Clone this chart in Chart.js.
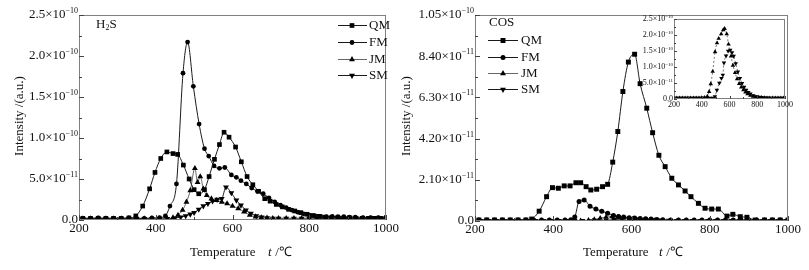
<!DOCTYPE html>
<html lang="en">
<head>
<meta charset="UTF-8">
<title>H2S and COS release curves</title>
<script src="https://cdn.jsdelivr.net/npm/chart.js"></script>
<style>
  body { margin: 0; background: #fff; }
  #wrap { position: relative; width: 809px; height: 270px; }
  canvas { position: absolute; }
  #h2s { left: 0; top: 0; }
  #cos { left: 400px; top: 0; }
  #inset { left: 628px; top: 8px; }
</style>
</head>
<body>
<div id="wrap">
  <canvas id="h2s" width="400" height="270"></canvas>
  <canvas id="cos" width="409" height="270"></canvas>
  <canvas id="inset" width="172" height="104"></canvas>
</div>
<script>
// temperatures in degC, intensities in units of 1e-11 a.u.

// ---- H2S panel ----
const h2sQmT = [210,230,250,270,290,310,330,348,366,384,398,413,429,445,457,472,487,500,512,527,539,553,566,578,591,608,623,638,653,668,684,698,714,730,746,762,778,794,810,826,842,858,874,890,906,922,938,954,970,986,1000];
const h2sQm  = [0.2,0.2,0.2,0.2,0.2,0.2,0.25,0.5,1.7,3.8,5.8,7.5,8.3,8.1,8.0,6.7,5.0,3.7,3.2,3.7,5.3,7.4,9.2,10.7,10.1,8.9,7.1,5.3,4.3,3.5,2.6,2.3,1.9,1.6,1.3,1.1,0.9,0.7,0.55,0.45,0.35,0.3,0.3,0.25,0.25,0.2,0.2,0.2,0.2,0.2,0.2];

const h2sFmT = [210,230,250,270,290,310,330,350,370,390,410,425,437,454,471,483,498,513,527,538,552,566,580,597,610,622,636,650,665,680,695,710,725,740,755,770,785,800,815,830,845,860,875,890,905,920,940,960,980,1000];
const h2sFm  = [0.2,0.2,0.25,0.2,0.2,0.2,0.25,0.2,0.2,0.25,0.3,0.5,1.7,4.4,17.9,21.7,16.3,11.7,8.7,7.8,6.6,6.3,6.4,5.5,5.2,4.8,4.4,3.9,3.5,3.2,2.7,2.2,1.8,1.5,1.2,0.95,0.75,0.6,0.5,0.45,0.4,0.45,0.4,0.4,0.35,0.35,0.3,0.3,0.3,0.35];

const h2sJmT = [210,230,250,270,290,310,330,350,370,390,410,430,445,458,470,480,490,502,509,516,524,533,545,558,572,586,600,615,630,645,660,675,690,705,720,740,760,780,800,820,840,860,880,900,920,940,960,980,1000];
const h2sJm  = [0.15,0.15,0.15,0.15,0.15,0.15,0.15,0.15,0.15,0.15,0.15,0.15,0.3,0.6,1.2,2.2,3.6,6.3,4.6,5.3,3.8,3.0,2.6,2.4,2.2,2.0,1.7,1.4,1.0,0.6,0.4,0.3,0.25,0.2,0.2,0.2,0.2,0.2,0.2,0.2,0.2,0.2,0.2,0.2,0.2,0.2,0.2,0.2,0.2];

const h2sSmT = [210,230,250,270,290,310,330,350,370,390,410,430,450,465,478,490,500,512,524,536,548,560,572,583,597,610,622,635,648,662,676,690,705,720,740,760,780,800,820,840,860,880,900,920,940,960,980,1000];
const h2sSm  = [0.15,0.15,0.15,0.15,0.15,0.15,0.15,0.15,0.15,0.15,0.15,0.15,0.25,0.35,0.5,0.7,0.9,1.3,1.7,2.0,2.3,2.5,2.6,4.0,3.3,2.4,1.8,1.2,0.8,0.5,0.35,0.25,0.2,0.2,0.2,0.2,0.2,0.2,0.2,0.2,0.2,0.2,0.2,0.2,0.2,0.2,0.2,0.2];

const h2sYTicks = [0, 5, 10, 15, 20, 25];
const h2sYText  = ['0.0', '5.0×10', '1.0×10', '1.5×10', '2.0×10', '2.5×10'];
const h2sYExp   = ['', '−11', '−10', '−10', '−10', '−10'];

// ---- COS panel ----
const cosQmT = [210,230,250,270,290,310,330,345,364,383,398,413,428,443,458,470,484,496,511,526,539,552,565,578,592,608,622,639,654,670,686,703,720,737,752,771,788,805,822,844,859,878,895,916,940,960,980,1000];
const cosQm  = [0.05,0.05,0.05,0.05,0.05,0.05,0.05,0.1,0.5,1.24,1.7,1.67,1.79,1.79,1.95,1.95,1.75,1.58,1.62,1.75,1.87,3.0,4.56,6.6,8.1,8.5,7.0,5.75,4.5,3.35,2.77,2.18,1.84,1.53,1.24,0.9,0.65,0.61,0.61,0.25,0.34,0.22,0.19,0.05,0.05,0.05,0.05,0.05];

const cosFmT = [210,230,250,270,290,310,330,350,370,390,410,430,445,455,466,479,494,509,524,539,554,567,580,594,608,622,636,650,665,680,700,720,740,760,780,800,820,840,860,880,900,920,940,960,980,1000];
const cosFm  = [0.05,0.05,0.05,0.05,0.05,0.05,0.05,0.05,0.05,0.05,0.05,0.05,0.07,0.2,1.0,1.07,0.75,0.61,0.5,0.4,0.28,0.23,0.2,0.17,0.15,0.13,0.11,0.1,0.08,0.07,0.05,0.05,0.05,0.05,0.05,0.05,0.05,0.05,0.05,0.05,0.05,0.05,0.05,0.05,0.05,0.05];

const cosJmT = [210,230,250,270,290,310,330,350,370,390,410,430,450,470,490,505,520,535,550,565,580,595,610,625,640,660,680,700,720,740,760,780,800,820,840,860,880,900,920,940,960,980,1000];
const cosJm  = [0.02,0.02,0.02,0.02,0.02,0.02,0.02,0.02,0.02,0.02,0.02,0.02,0.02,0.02,0.04,0.08,0.14,0.2,0.22,0.2,0.16,0.12,0.09,0.07,0.05,0.04,0.03,0.02,0.02,0.02,0.02,0.02,0.02,0.02,0.02,0.02,0.02,0.02,0.02,0.02,0.02,0.02,0.02];

const cosSmT = [215,235,255,275,295,315,335,355,375,395,415,435,455,475,495,515,535,555,575,595,615,635,655,675,695,715,735,755,775,795,815,835,855,875,895,915,935,955,975,995];
const cosSm  = [0.02,0.02,0.02,0.02,0.02,0.02,0.02,0.02,0.02,0.02,0.02,0.02,0.02,0.02,0.02,0.02,0.04,0.07,0.1,0.12,0.1,0.08,0.06,0.04,0.03,0.02,0.02,0.02,0.02,0.02,0.02,0.02,0.02,0.02,0.02,0.02,0.02,0.02,0.02,0.02];

const cosYTicks = [0, 2.1, 4.2, 6.3, 8.4, 10.5];
const cosYText  = ['0.0', '2.10×10', '4.20×10', '6.30×10', '8.40×10', '1.05×10'];
const cosYExp   = ['', '−11', '−11', '−11', '−11', '−10'];

// ---- COS inset (JM, SM) ----
const insJmT = [200,220,240,260,280,300,320,340,360,380,400,420,440,453,465,479,496,510,522,540,555,565,580,593,611,625,640,655,670,685,700,715,730,750,770,790,810,830,850,870,890,910,930,950,970,990];
const insJm  = [0.3,0.3,0.3,0.3,0.3,0.3,0.3,0.3,0.3,0.3,0.35,0.4,0.8,2.3,4.7,8.6,14.7,17.5,18.9,20.3,21.6,22.0,20.3,17.1,13.4,10.5,8.2,6.3,4.8,3.7,2.8,2.1,1.6,1.1,0.8,0.6,0.5,0.4,0.35,0.3,0.3,0.3,0.3,0.3,0.3,0.3];

const insSmT = [200,220,240,260,280,300,320,340,360,380,400,420,440,460,480,495,509,527,542,552,560,575,590,605,618,630,645,660,675,690,705,720,735,750,770,790,810,830,850,870,890,910,930,950,970,990];
const insSm  = [0.3,0.3,0.3,0.3,0.3,0.3,0.3,0.3,0.3,0.3,0.3,0.3,0.3,0.3,0.3,0.8,2.8,5.0,6.5,7.5,11.3,13.5,15.0,15.3,14.5,13.4,11.1,8.5,6.5,4.9,3.7,2.8,2.1,1.6,1.1,0.8,0.6,0.5,0.4,0.35,0.3,0.3,0.3,0.3,0.3,0.3];

const insYTicks = [0, 5, 10, 15, 20, 25];
const insYText  = ['0.0', '5.0×10', '1.0×10', '1.5×10', '2.0×10', '2.5×10'];
const insYExp   = ['', '−11', '−10', '−10', '−10', '−10'];

const xMajor = [200, 400, 600, 800, 1000];
const xMinor = [300, 500, 700, 900];

const serif = '"Liberation Serif", "Times New Roman", serif';

function mark(ctx, style, x, y, r) {
  ctx.beginPath();
  if (style === 'rect') {
    const s = r * Math.SQRT1_2;
    ctx.rect(x - s, y - s, 2 * s, 2 * s);
  } else if (style === 'circle') {
    ctx.arc(x, y, r, 0, Math.PI * 2);
  } else if (style === 'up') {
    ctx.moveTo(x, y - r); ctx.lineTo(x + r * 0.866, y + r * 0.5); ctx.lineTo(x - r * 0.866, y + r * 0.5); ctx.closePath();
  } else {
    ctx.moveTo(x, y + r); ctx.lineTo(x + r * 0.866, y - r * 0.5); ctx.lineTo(x - r * 0.866, y - r * 0.5); ctx.closePath();
  }
  ctx.fill();
}

// frame, inward ticks, y labels with exponents, titles and legend
const deco = {
  id: 'deco',
  beforeDraw(chart, args, o) {
    if (!o.whiteBox) return;
    const { ctx, chartArea: a } = chart;
    ctx.save();
    ctx.fillStyle = '#fff';
    ctx.fillRect(a.left, a.top, a.right - a.left, a.bottom - a.top);
    ctx.restore();
  },
  afterDraw(chart, args, o) {
    const { ctx, chartArea: a, scales: { x, y } } = chart;
    ctx.save();
    ctx.strokeStyle = '#808080';
    ctx.lineWidth = 1;
    ctx.strokeRect(a.left + 0.5, a.top + 0.5, a.right - a.left - 1, a.bottom - a.top - 1);

    ctx.strokeStyle = '#444';
    ctx.beginPath();
    xMajor.forEach(v => { const p = Math.round(x.getPixelForValue(v)) + 0.5; ctx.moveTo(p, a.bottom); ctx.lineTo(p, a.bottom - o.major); });
    xMinor.forEach(v => { const p = Math.round(x.getPixelForValue(v)) + 0.5; ctx.moveTo(p, a.bottom); ctx.lineTo(p, a.bottom - o.minor); });
    o.yTicks.forEach((v, i) => {
      const p = Math.round(y.getPixelForValue(v)) + 0.5;
      ctx.moveTo(a.left, p); ctx.lineTo(a.left + o.major, p);
      if (i > 0) {
        const q = Math.round(y.getPixelForValue((v + o.yTicks[i - 1]) / 2)) + 0.5;
        ctx.moveTo(a.left, q); ctx.lineTo(a.left + o.minor, q);
      }
    });
    ctx.stroke();

    ctx.fillStyle = '#111';
    ctx.textBaseline = 'middle';
    ctx.textAlign = 'left';
    o.yTicks.forEach((v, i) => {
      const p = y.getPixelForValue(v);
      ctx.font = o.supSize + 'px ' + serif;
      const ew = o.yExp[i] ? ctx.measureText(o.yExp[i]).width : 0;
      ctx.font = o.tickSize + 'px ' + serif;
      const mw = ctx.measureText(o.yText[i]).width;
      const right = a.left - o.gap;
      ctx.fillText(o.yText[i], right - ew - mw, p);
      if (ew) {
        ctx.font = o.supSize + 'px ' + serif;
        ctx.fillText(o.yExp[i], right - ew, p - o.supRise);
      }
    });

    if (o.titles) {
      ctx.font = '13px ' + serif;
      ctx.fillText('Temperature', o.xTitleX, o.xTitleY);
      ctx.font = 'italic 13px ' + serif;
      ctx.fillText('t', o.tX, o.xTitleY);
      ctx.font = '13px ' + serif;
      ctx.fillText(' /℃', o.tX + 4, o.xTitleY);
      ctx.save();
      ctx.translate(o.yTitleX, o.yTitleY);
      ctx.rotate(-Math.PI / 2);
      ctx.textAlign = 'center';
      ctx.fillText('Intensity /(a.u.)', 0, 0);
      ctx.restore();
    }

    if (o.tag) {
      ctx.font = '13px ' + serif;
      const [tx, ty] = o.tagPos;
      if (o.tag === 'H2S') {
        ctx.fillText('H', tx, ty);
        const hw = ctx.measureText('H').width;
        ctx.font = '8px ' + serif;
        ctx.fillText('2', tx + hw, ty + 3);
        ctx.font = '13px ' + serif;
        ctx.fillText('S', tx + hw + 4, ty);
      } else {
        ctx.fillText(o.tag, tx, ty);
      }
    }

    if (o.legend) {
      const L = o.legend;
      chart.data.datasets.forEach((ds, i) => {
        const yy = L.ys[i] + 0.5;
        ctx.strokeStyle = ds.borderColor;
        ctx.lineWidth = 1;
        ctx.beginPath();
        ctx.moveTo(L.x1, yy); ctx.lineTo(L.x2, yy);
        ctx.stroke();
        ctx.fillStyle = '#000';
        mark(ctx, L.marks[i], L.mx, yy, L.r[i]);
        ctx.fillStyle = '#111';
        ctx.font = '13px ' + serif;
        ctx.fillText(ds.label, L.tx, yy);
      });
    }
    ctx.restore();
  }
};

function series(label, xs, ys, style, rot, radius, color, width, dash) {
  return {
    label,
    data: xs.map((t, i) => ({ x: t, y: ys[i] })),
    borderColor: color,
    borderWidth: width,
    borderDash: dash || [],
    pointStyle: style,
    pointRotation: rot,
    pointRadius: radius,
    pointHoverRadius: radius,
    pointBackgroundColor: '#000',
    pointBorderWidth: 0,
    cubicInterpolationMode: 'monotone',
    fill: false
  };
}

function makeChart(id, datasets, c) {
  return new Chart(document.getElementById(id), {
    type: 'line',
    data: { datasets },
    options: {
      responsive: false,
      animation: false,
      events: [],
      layout: { padding: c.pad, autoPadding: false },
      plugins: { legend: { display: false }, tooltip: { enabled: false }, deco: c.deco },
      scales: {
        x: {
          type: 'linear', min: 200, max: 1000,
          grid: { display: false, drawTicks: false },
          border: { display: false },
          ticks: { stepSize: 200, autoSkip: false, maxRotation: 0, padding: c.xPad,
                   color: '#111', font: { family: serif, size: c.xFont },
                   callback: v => String(v) },
          afterFit(s) { s.height = c.xHeight; }
        },
        y: {
          type: 'linear', min: 0, max: c.yMax,
          grid: { display: false, drawTicks: false },
          border: { display: false },
          ticks: { display: false },
          afterFit(s) { s.width = c.yWidth; }
        }
      }
    },
    plugins: [deco]
  });
}

const mainStyles = ['rect', 'circle', 'up', 'down'];

makeChart('h2s', [
  series('QM', h2sQmT, h2sQm, 'rect', 0, 3.3, '#1a1a1a', 1),
  series('FM', h2sFmT, h2sFm, 'circle', 0, 2.4, '#1a1a1a', 1),
  series('JM', h2sJmT, h2sJm, 'triangle', 0, 3.4, '#666', 1),
  series('SM', h2sSmT, h2sSm, 'triangle', 180, 3.4, '#1a1a1a', 1)
], {
  pad: { left: 0, right: 3, top: 15, bottom: 0 }, yWidth: 79, xHeight: 50, yMax: 25, xFont: 13, xPad: 1,
  deco: {
    yTicks: h2sYTicks, yText: h2sYText, yExp: h2sYExp,
    tickSize: 13, supSize: 8, supRise: 4, gap: 1, major: 5, minor: 3,
    titles: true, xTitleX: 190, xTitleY: 253, tX: 268, yTitleX: 20, yTitleY: 116,
    tag: 'H2S', tagPos: [96, 25],
    legend: { x1: 338, x2: 367, mx: 352, tx: 369, ys: [25, 42, 59, 75], marks: mainStyles, r: [3.3, 2.4, 3.4, 3.4] }
  }
});

makeChart('cos', [
  series('QM', cosQmT, cosQm, 'rect', 0, 3.5, '#1a1a1a', 1),
  series('FM', cosFmT, cosFm, 'circle', 0, 2.5, '#1a1a1a', 1),
  series('JM', cosJmT, cosJm, 'triangle', 0, 3.2, '#666', 1),
  series('SM', cosSmT, cosSm, 'triangle', 180, 3.2, '#1a1a1a', 1)
], {
  pad: { left: 0, right: 21, top: 15, bottom: 0 }, yWidth: 75, xHeight: 49, yMax: 10.5, xFont: 13, xPad: 1,
  deco: {
    yTicks: cosYTicks, yText: cosYText, yExp: cosYExp,
    tickSize: 13, supSize: 8, supRise: 4, gap: 1, major: 5, minor: 3,
    titles: true, xTitleX: 183, xTitleY: 253, tX: 259, yTitleX: 7, yTitleY: 116,
    tag: 'COS', tagPos: [89, 23],
    legend: { x1: 88, x2: 118, mx: 103, tx: 121, ys: [40, 57, 73, 89], marks: mainStyles, r: [3.5, 2.5, 3.4, 3.4] }
  }
});

makeChart('inset', [
  series('JM', insJmT, insJm, 'triangle', 0, 2.6, '#555', 0.8, [2, 2]),
  series('SM', insSmT, insSm, 'triangle', 180, 2.6, '#555', 0.8, [2, 2])
], {
  pad: { left: 0, right: 15, top: 11, bottom: 0 }, yWidth: 46, xHeight: 13, yMax: 25, xFont: 8, xPad: 1,
  deco: {
    whiteBox: true,
    yTicks: insYTicks, yText: insYText, yExp: insYExp,
    tickSize: 8, supSize: 5, supRise: 2.5, gap: 1, major: 3, minor: 2,
    titles: false, tag: '', legend: null
  }
});
</script>
</body>
</html>
